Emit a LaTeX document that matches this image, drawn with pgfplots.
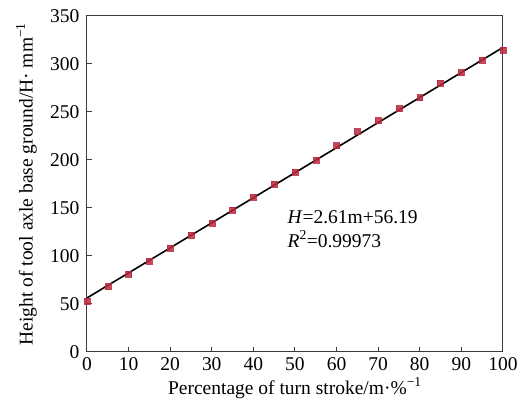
\documentclass[border=0pt]{standalone}
\usepackage{fontspec}
\setmainfont{Liberation Serif}
\usepackage{pgfplots}
\pgfplotsset{compat=1.18}
\definecolor{mk}{RGB}{185,40,60}
\definecolor{ax}{RGB}{60,60,60}
\begin{document}
\fontsize{19.5}{23}\selectfont
\begin{tikzpicture}
\begin{axis}[
  scale only axis,
  width=416pt, height=336pt,
  xmin=0, xmax=100, ymin=0, ymax=350,
  xtick={0,10,...,100}, ytick={0,50,...,350},
  tick align=inside,
  xtick pos=bottom, ytick pos=left,
  major tick length=5pt,
  axis line style={ax, line width=1pt},
  tick style={ax, line width=1pt},
  /pgf/number format/assume math mode=true,
  ticklabel style={font=\fontsize{19.5}{23}\selectfont},
  label style={font=\fontsize{19.5}{23}\selectfont},
  xticklabel style={yshift=1pt},
  yticklabel style={xshift=-1pt},
  xlabel={Percentage of turn stroke/m·\%\textsuperscript{\symbol{"2212}1}},
  ylabel={Height of tool axle base ground/H· mm\textsuperscript{\symbol{"2212}1}},
  xlabel style={yshift=6pt},
  ylabel style={yshift=0pt},
  clip=false,
]
\addplot[only marks, mark=square*, mark size=3pt, mk, opacity=0.85] coordinates {
(0,53) (5,68) (10,81) (15,94.5) (20,108) (25,122) (30,134) (35,148) (40,161) (45,175)
(50,187) (55,200) (60,215) (65,229.5) (70,241) (75,253.5) (80,265) (85,280) (90,291) (95,304) (100,314.5)
};
\addplot[black, line width=1.6pt] coordinates {(0,56.19) (100,317.19)};
\node[anchor=base west, inner sep=0pt, font=\fontsize{19.5}{23}\selectfont] at (axis cs:48.2,134) {\textit{H}=2.61m+56.19};
\node[anchor=base west, inner sep=0pt, font=\fontsize{19.5}{23}\selectfont] at (axis cs:48.2,109) {\textit{R}\textsuperscript{2}=0.99973};
\end{axis}
\path ([shift={(-87pt,-56pt)}]current axis.south west) rectangle ([shift={(21pt,16pt)}]current axis.north east);
\end{tikzpicture}
\end{document}
